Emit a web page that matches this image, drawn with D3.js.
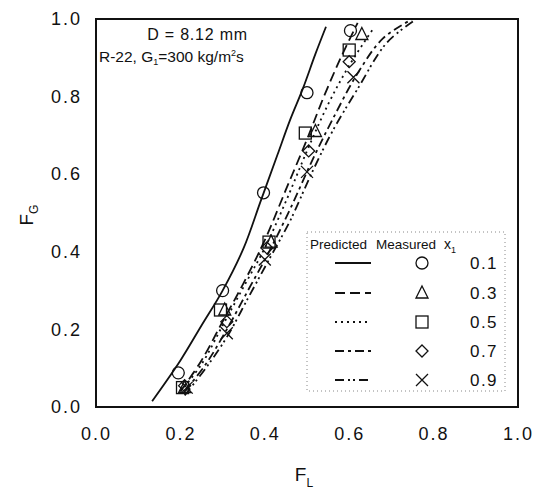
<!DOCTYPE html>
<html><head><meta charset="utf-8">
<script src="https://cdn.jsdelivr.net/npm/d3@7"></script>
<style>
body{margin:0;background:#fff;}
text{font-family:"Liberation Sans",Arial,sans-serif;fill:#111;}
</style></head>
<body><svg id="c" width="534" height="500"></svg>
<script>
// ---- data ----
const xTicks = [0.0, 0.2, 0.4, 0.6, 0.8, 1.0];
const yTicks = [0.0, 0.2, 0.4, 0.6, 0.8, 1.0];
const qualities = ["0.1", "0.3", "0.5", "0.7", "0.9"];

// predicted curves (F_L, F_G)
const pred01FL = [0.133, 0.20, 0.25, 0.30, 0.35, 0.39, 0.43, 0.46, 0.49, 0.52, 0.545];
const pred01FG = [0.015, 0.12, 0.21, 0.30, 0.41, 0.53, 0.65, 0.74, 0.82, 0.91, 0.98];
const pred03FL = [0.20, 0.25, 0.30, 0.35, 0.40, 0.45, 0.50, 0.54, 0.58, 0.62];
const pred03FG = [0.04, 0.12, 0.22, 0.32, 0.43, 0.56, 0.69, 0.80, 0.90, 0.99];
const pred05FL = [0.20, 0.25, 0.30, 0.35, 0.40, 0.45, 0.50, 0.55, 0.60, 0.66];
const pred05FG = [0.04, 0.11, 0.21, 0.31, 0.41, 0.53, 0.66, 0.78, 0.88, 0.98];
const pred07FL = [0.21, 0.26, 0.31, 0.36, 0.41, 0.46, 0.51, 0.56, 0.62, 0.68, 0.75];
const pred07FG = [0.04, 0.11, 0.20, 0.30, 0.40, 0.51, 0.63, 0.74, 0.86, 0.95, 1.0];
const pred09FL = [0.21, 0.26, 0.31, 0.36, 0.41, 0.46, 0.51, 0.56, 0.62, 0.69, 0.76];
const pred09FG = [0.03, 0.10, 0.18, 0.28, 0.38, 0.48, 0.60, 0.71, 0.82, 0.94, 1.0];

// measured points (F_L, F_G)
const meas01FL = [0.195, 0.30, 0.397, 0.50, 0.603];
const meas01FG = [0.088, 0.30, 0.552, 0.81, 0.97];
const meas03FL = [0.21, 0.305, 0.415, 0.52, 0.63];
const meas03FG = [0.05, 0.25, 0.425, 0.71, 0.96];
const meas05FL = [0.205, 0.295, 0.41, 0.496, 0.60];
const meas05FG = [0.05, 0.25, 0.425, 0.706, 0.92];
const meas07FL = [0.21, 0.31, 0.405, 0.504, 0.60];
const meas07FG = [0.055, 0.22, 0.41, 0.66, 0.89];
const meas09FL = [0.215, 0.31, 0.40, 0.50, 0.61];
const meas09FG = [0.05, 0.19, 0.38, 0.606, 0.85];

// ---- layout ----
const svg = d3.select("#c");
const L = 96, R = 518, T = 19, B = 407;
const x = d3.scaleLinear().domain([0, 1]).range([L, R]);
const y = d3.scaleLinear().domain([0, 1]).range([B, T]);

const zip = (a, b) => a.map((v, i) => [v, b[i]]);
const preds = [
  {fl: pred01FL, fg: pred01FG, dash: null},
  {fl: pred03FL, fg: pred03FG, dash: "10,5"},
  {fl: pred05FL, fg: pred05FG, dash: "2,4"},
  {fl: pred07FL, fg: pred07FG, dash: "9,4,3,4"},
  {fl: pred09FL, fg: pred09FG, dash: "9,4,2,3,2,4"}
];
const meas = [
  {fl: meas01FL, fg: meas01FG, sym: "circle"},
  {fl: meas03FL, fg: meas03FG, sym: "triangle"},
  {fl: meas05FL, fg: meas05FG, sym: "square"},
  {fl: meas07FL, fg: meas07FG, sym: "diamond"},
  {fl: meas09FL, fg: meas09FG, sym: "cross"}
];

// axes (no tick marks, labels only)
const xAxis = d3.axisBottom(x).tickValues(xTicks).tickFormat(d3.format(".1f")).tickSize(0).tickPadding(20);
const yAxis = d3.axisLeft(y).tickValues(yTicks).tickFormat(d3.format(".1f")).tickSize(0).tickPadding(14);
const gx = svg.append("g").attr("transform", `translate(0,${B})`).call(xAxis);
const gy = svg.append("g").attr("transform", `translate(${L},0)`).call(yAxis);
[gx, gy].forEach(g => {
  g.select(".domain").remove();
  g.selectAll("text").attr("font-size", 18).attr("letter-spacing", 2)
   .attr("font-family", "Liberation Sans, Arial, sans-serif").attr("fill", "#111");
});

// frame
svg.append("rect").attr("x", L).attr("y", T).attr("width", R - L).attr("height", B - T)
  .attr("fill", "none").attr("stroke", "#111").attr("stroke-width", 2);

// axis titles
const yt = svg.append("text").attr("transform", "translate(33,215) rotate(-90)")
  .attr("text-anchor", "middle").attr("font-size", 19);
yt.append("tspan").text("F");
yt.append("tspan").attr("font-size", 12).attr("dy", 5).text("G");
const xt = svg.append("text").attr("x", 304).attr("y", 481).attr("text-anchor", "middle").attr("font-size", 19);
xt.append("tspan").text("F");
xt.append("tspan").attr("font-size", 12).attr("dy", 6).text("L");

// annotation
svg.append("text").attr("x", 248).attr("y", 40).attr("text-anchor", "end").attr("font-size", 16)
  .attr("letter-spacing", 0.8).text("D = 8.12 mm");
const ann = svg.append("text").attr("x", 99).attr("y", 62).attr("font-size", 15.5);
ann.append("tspan").text("R-22, G");
ann.append("tspan").attr("font-size", 9).attr("dy", 3).text("1");
ann.append("tspan").attr("dy", -3).text("=300 kg/m");
ann.append("tspan").attr("font-size", 9).attr("dy", -6).text("2");
ann.append("tspan").attr("dy", 6).text("s");

// predicted curves
const line = d3.line().x(d => x(d[0])).y(d => y(d[1])).curve(d3.curveCatmullRom);
preds.forEach(p => {
  svg.append("path").datum(zip(p.fl, p.fg)).attr("d", line)
    .attr("fill", "none").attr("stroke", "#111").attr("stroke-width", 1.8)
    .attr("stroke-dasharray", p.dash);
});

// markers
function drawSym(g, sym, cx, cy) {
  const s = 6;
  if (sym === "circle") g.append("circle").attr("cx", cx).attr("cy", cy).attr("r", s);
  else if (sym === "square") g.append("rect").attr("x", cx - s).attr("y", cy - s).attr("width", 2 * s).attr("height", 2 * s);
  else if (sym === "triangle") g.append("path").attr("d", `M${cx},${cy - s - 1}L${cx + s},${cy + s - 1}L${cx - s},${cy + s - 1}Z`);
  else if (sym === "diamond") g.append("path").attr("d", `M${cx},${cy - s}L${cx + s},${cy}L${cx},${cy + s}L${cx - s},${cy}Z`);
  else if (sym === "cross") g.append("path").attr("d", `M${cx - s},${cy - s}L${cx + s},${cy + s}M${cx - s},${cy + s}L${cx + s},${cy - s}`);
}
const mg = svg.append("g").attr("fill", "none").attr("stroke", "#111").attr("stroke-width", 1.3);
meas.forEach(m => m.fl.forEach((v, i) => drawSym(mg, m.sym, x(v), y(m.fg[i]))));

// legend
const lg = svg.append("g");
lg.append("rect").attr("x", 307).attr("y", 232).attr("width", 198).attr("height", 159)
  .attr("fill", "#fff").attr("stroke", "#888").attr("stroke-width", 1).attr("stroke-dasharray", "1,3");
lg.append("text").attr("x", 310).attr("y", 249).attr("font-size", 13.5).text("Predicted");
lg.append("text").attr("x", 376).attr("y", 249).attr("font-size", 13.5).text("Measured");
const xh = lg.append("text").attr("x", 444).attr("y", 249).attr("font-size", 14);
xh.append("tspan").text("x");
xh.append("tspan").attr("font-size", 9).attr("dy", 4).text("1");
const rowY = [263, 293, 322, 351, 380];
const lmg = lg.append("g").attr("fill", "none").attr("stroke", "#111").attr("stroke-width", 1.3);
qualities.forEach((q, i) => {
  lg.append("line").attr("x1", 335).attr("x2", 371).attr("y1", rowY[i]).attr("y2", rowY[i])
    .attr("stroke", "#111").attr("stroke-width", 1.8).attr("stroke-dasharray", preds[i].dash);
  drawSym(lmg, meas[i].sym, 422, rowY[i]);
  lg.append("text").attr("x", 484).attr("y", rowY[i] + 6).attr("text-anchor", "middle")
    .attr("font-size", 17).attr("letter-spacing", 1.5).text(q);
});
</script></body></html>
